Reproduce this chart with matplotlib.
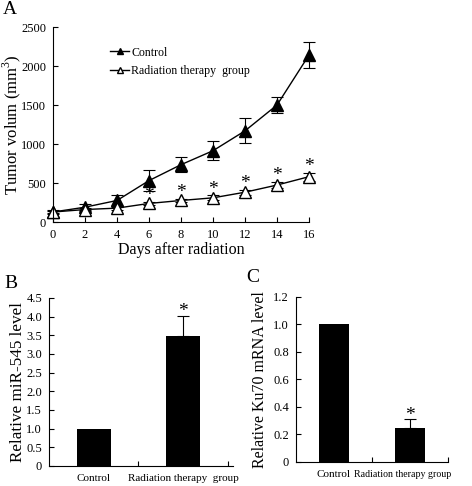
import matplotlib
matplotlib.use('Agg')
import matplotlib.pyplot as plt
import matplotlib.transforms as mtransforms
from matplotlib.lines import Line2D

plt.rcParams['font.family'] = ['Liberation Serif', 'DejaVu Serif']
plt.rcParams['mathtext.fontset'] = 'custom'
plt.rcParams['mathtext.rm'] = 'Liberation Serif'

# panel A data
days = [0, 2, 4, 6, 8, 10, 12, 14, 16]
control_vol = [128, 190, 276, 531, 735, 914, 1169, 1500, 2141]
control_err = [20, 40, 75, 130, 95, 125, 160, 105, 170]
radiation_vol = [128, 160, 178, 238, 276, 310, 382, 474, 581]
radiation_err = [15, 20, 20, 20, 25, 30, 30, 40, 50]
star_days = [6, 8, 10, 12, 14, 16]

# panel B / C data
groups_b = ['Control', 'Radiation therapy  group']
groups_c = ['Control', 'Radiation therapy group']
mir545 = [1.0, 3.48]
mir545_err = [0, 0.54]
ku70 = [1.0, 0.25]
ku70_err = [0, 0.06]

fig = plt.figure(figsize=(4.72, 4.86), dpi=100)

# ---- A
axA = fig.add_axes([0.1123, 0.5432, 0.5424, 0.4012])
axA.errorbar(days, control_vol, yerr=control_err, color='black', marker='^',
             markersize=8, markerfacecolor='black', lw=1, elinewidth=0.8,
             capsize=4, capthick=0.8, clip_on=False)
axA.errorbar(days, radiation_vol, yerr=radiation_err, color='black', marker='^',
             markersize=8, markerfacecolor='white', lw=1, elinewidth=0.8,
             capsize=4, capthick=0.8, clip_on=False)
for d in star_days:
    i = days.index(d)
    axA.annotate('*', (d, radiation_vol[i] + radiation_err[i]), xytext=(0, 4.5),
                 textcoords='offset points', ha='center', va='center', fontsize=14)
axA.set_xlim(0, 16)
axA.set_ylim(0, 2500)
axA.set_xticks(days)
axA.set_yticks([0, 500, 1000, 1500, 2000, 2500])
axA.set_xlabel('Days after radiation', fontsize=11.5, labelpad=1)
axA.set_ylabel('Tumor volum (mm$^3$)', fontsize=12)
axA.yaxis.set_label_coords(-0.117, 0.5)
handles = [Line2D([], [], color='black', lw=1, marker='^', markersize=5,
                  markerfacecolor='black'),
           Line2D([], [], color='black', lw=1, marker='^', markersize=5,
                  markerfacecolor='white')]
axA.legend(handles, ['Control', 'Radiation therapy  group'], loc='upper left',
           bbox_to_anchor=(0.2, 0.93), frameon=False, fontsize=8.6,
           handlelength=1.6, handletextpad=0.15, labelspacing=0.55,
           borderpad=0)
fig.text(0.006, 0.997, 'A', fontsize=14, va='top')

# ---- B
axB = fig.add_axes([0.1038, 0.0412, 0.3898, 0.3457])
axB.bar([0.5, 1.5], mir545, width=0.38, color='black')
axB.errorbar([1.5], mir545[1:], yerr=[[0], mir545_err[1:]], fmt='none',
             ecolor='black', elinewidth=0.8, capsize=4, capthick=0.8)
axB.annotate('*', (1.5, mir545[1] + mir545_err[1]), xytext=(0, 3),
             textcoords='offset points', ha='center', va='center', fontsize=14)
axB.set_xlim(0, 2.06)
axB.set_ylim(0, 4.5)
axB.set_yticks([0, 0.5, 1, 1.5, 2, 2.5, 3, 3.5, 4, 4.5])
axB.set_yticklabels(['0', '0.5', '1.0', '1.5', '2.0', '2.5', '3.0', '3.5', '4.0', '4.5'])
axB.set_xticks([1, 2])
axB.set_xticklabels(['', ''])
axB.set_xticks([0.5, 1.5], minor=True)
axB.set_xticklabels(groups_b, minor=True)
axB.set_ylabel('Relative miR-545 level', fontsize=12.3)
axB.yaxis.set_label_coords(-0.125, 0.5)
fig.text(0.01, 0.435, 'B', fontsize=14, va='top')

# ---- C
axC = fig.add_axes([0.6271, 0.0494, 0.322, 0.3395])
axC.bar([0.5, 1.5], ku70, width=0.40, color='black')
axC.errorbar([1.5], ku70[1:], yerr=[[0], ku70_err[1:]], fmt='none',
             ecolor='black', elinewidth=0.8, capsize=4, capthick=0.8)
axC.annotate('*', (1.5, ku70[1] + ku70_err[1]), xytext=(0, 3),
             textcoords='offset points', ha='center', va='center', fontsize=14)
axC.set_xlim(0, 2)
axC.set_ylim(0, 1.2)
axC.set_yticks([0, 0.2, 0.4, 0.6, 0.8, 1.0, 1.2])
axC.set_yticklabels(['0', '0.2', '0.4', '0.6', '0.8', '1.0', '1.2'])
axC.set_xticks([1, 2])
axC.set_xticklabels(['', ''])
axC.set_xticks([0.5, 1.5], minor=True)
axC.set_xticklabels(groups_c, minor=True)
axC.set_ylabel('Relative Ku70 mRNA level', fontsize=11.5)
axC.yaxis.set_label_coords(-0.184, 0.5)
fig.text(0.522, 0.447, 'C', fontsize=14, va='top')

for ax in (axA, axB, axC):
    ax.spines['top'].set_visible(False)
    ax.spines['right'].set_visible(False)
    ax.tick_params(axis='both', which='major', direction='in', length=3.5,
                   width=0.8, labelsize=9, pad=5)
    for s in ('left', 'bottom'):
        ax.spines[s].set_linewidth(0.8)
for ax in (axB, axC):
    ax.tick_params(axis='x', which='minor', length=0, pad=6, labelsize=8)

# long label in C is set tighter and a bit left of its bar, as in the original
lab = axC.xaxis.get_minorticklabels()[1]
lab.set_fontsize(7.1)
shift = mtransforms.ScaledTranslation(-5 / 72, 0, fig.dpi_scale_trans)
lab.set_transform(lab.get_transform() + shift)

fig.savefig('out.png', dpi=100)
